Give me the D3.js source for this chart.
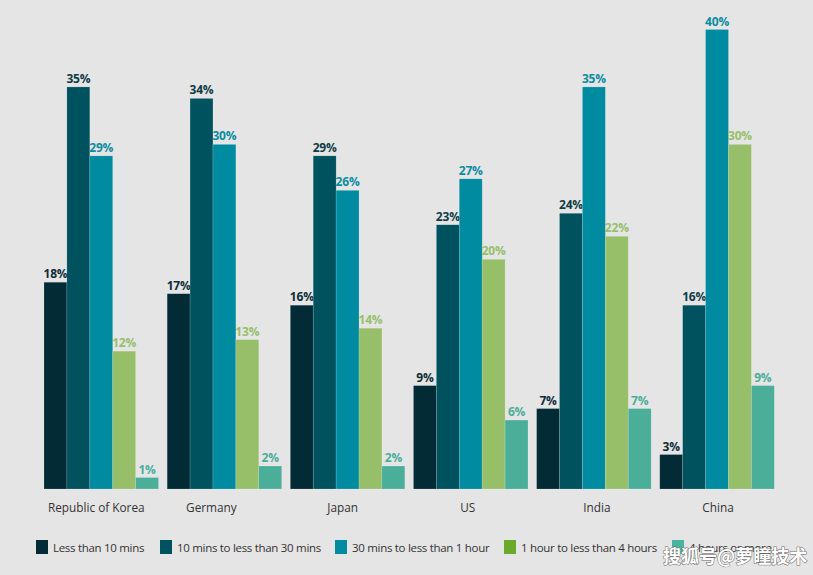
<!DOCTYPE html>
<html><head><meta charset="utf-8">
<script src="https://cdn.jsdelivr.net/npm/d3@7"></script>
<style>
html,body{margin:0;padding:0;background:#e5e5e5;}
svg{display:block;font-family:"Open Sans",sans-serif;}
</style></head>
<body>
<svg id="chart" width="813" height="575"></svg>
<script>
const countries = ["Republic of Korea","Germany","Japan","US","India","China"];
const seriesNames = ["Less than 10 mins","10 mins to less than 30 mins","30 mins to less than 1 hour","1 hour to less than 4 hours","4 hours or more"];
const lessThan10 = [18,17,16,9,7,3];
const from10to30 = [35,34,29,23,24,16];
const from30to60 = [29,30,26,27,35,40];
const from1to4h = [12,13,14,20,22,30];
const over4h = [1,2,2,6,7,9];
const seriesValues = [lessThan10, from10to30, from30to60, from1to4h, over4h];

const barColors = ["#022b36","#00525e","#008ba1","#97bf6a","#4aae99"];
const labelColors = ["#0d2c36","#0d3c46","#0a8ca2","#97bf6a","#4aae99"];
const legendColors = ["#022b36","#00525e","#008ba1","#6aaa2a","#4ab59f"];
// small horizontal nudges of the category labels, as in the reference layout
const labelNudge = [-5,-13,-5,-3,3,1];

const svg = d3.select("#chart");
svg.append("rect").attr("width",813).attr("height",575).attr("fill","#e5e5e5");

const x0 = d3.scaleBand().domain(countries).range([44,774.3]).paddingInner(0.07).paddingOuter(0);
const x1 = d3.scaleBand().domain(d3.range(5)).range([0,x0.bandwidth()]);
const y = d3.scaleLinear().domain([0,40]).range([489,29.5]);

const groups = svg.append("g").selectAll("g").data(countries).join("g")
  .attr("transform", d => `translate(${x0(d)},0)`);

groups.each(function(c, ci){
  const g = d3.select(this);
  seriesValues.forEach((vals, si) => {
    const v = vals[ci];
    g.append("rect")
      .attr("x", x1(si)).attr("width", x1.bandwidth())
      .attr("y", y(v)).attr("height", y(0)-y(v))
      .attr("fill", barColors[si])
      .attr("stroke","#ffffff").attr("stroke-opacity",0.25).attr("stroke-width",0.6);
    g.append("text")
      .attr("x", x1(si)+x1.bandwidth()/2).attr("y", y(v)-4)
      .attr("text-anchor","middle")
      .attr("font-size","12px").attr("font-weight","700")
      .attr("letter-spacing","-0.2px")
      .attr("fill", labelColors[si])
      .text(v+"%");
  });
});

const xAxis = svg.append("g").attr("transform","translate(0,489)")
  .call(d3.axisBottom(x0).tickSize(0).tickPadding(15));
xAxis.select(".domain").remove();
xAxis.selectAll("text").attr("font-size","11.8px").attr("fill","#333").attr("font-family","Open Sans, sans-serif")
  .attr("dx",(d,i)=>labelNudge[i]);

const legendX = [36,160,335,504,672];
const legend = svg.append("g").attr("transform","translate(0,540)");
seriesNames.forEach((n,i)=>{
  legend.append("rect").attr("x",legendX[i]).attr("y",0).attr("width",12).attr("height",14).attr("fill",legendColors[i]);
  legend.append("text").attr("x",legendX[i]+17).attr("y",11.5)
    .attr("font-size","11.5px").attr("fill","#333").attr("letter-spacing","-0.3px").text(n);
});

svg.append("text").attr("x",663).attr("y",563)
  .attr("font-family","Noto Sans CJK SC, sans-serif").attr("font-weight","700")
  .attr("font-size","18px").attr("fill","#ffffff")
  .attr("stroke","#666").attr("stroke-width",1).attr("paint-order","stroke")
  .text("搜狐号@萝瞳技术");
</script>
</body></html>
